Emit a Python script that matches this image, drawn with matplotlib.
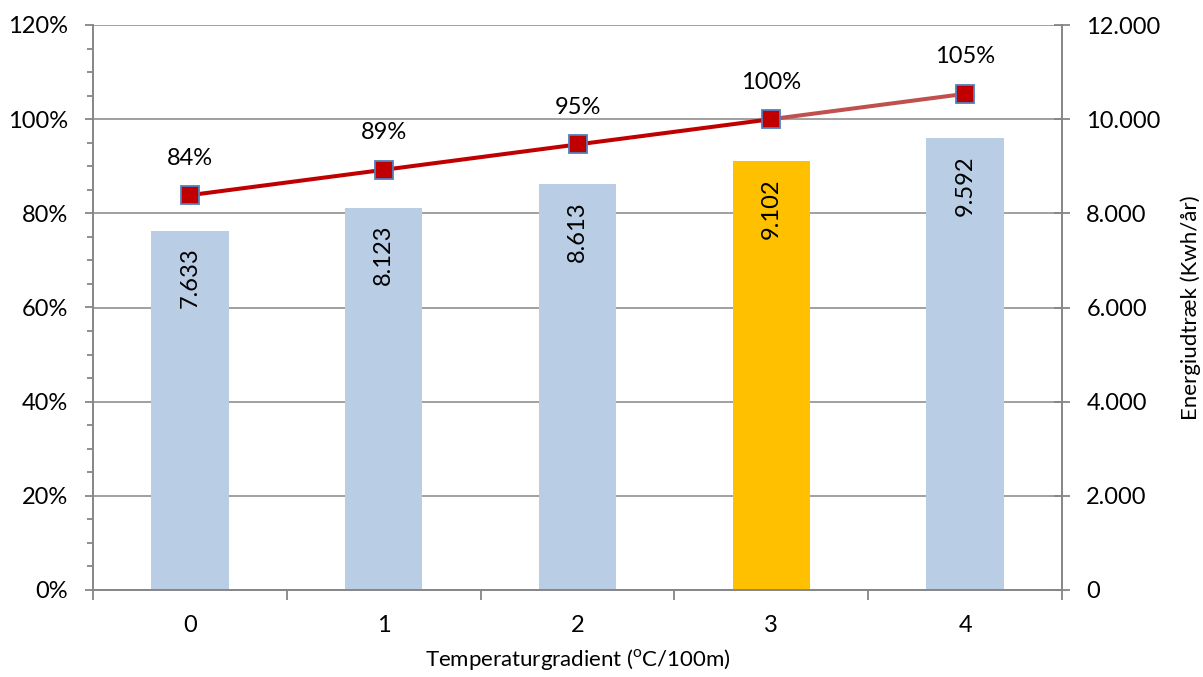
import matplotlib
matplotlib.use("Agg")
import matplotlib.pyplot as plt
from matplotlib.ticker import FuncFormatter, MultipleLocator, FixedLocator

plt.rcParams['font.family'] = ['Lato', 'DejaVu Sans']

# Data
gradients = [0, 1, 2, 3, 4]
energy_kwh = [7633, 8123, 8613, 9102, 9592]
relative = [0.8386, 0.8924, 0.9463, 1.0000, 1.0538]
bar_colors = ['#B9CDE5', '#B9CDE5', '#B9CDE5', '#FFC000', '#B9CDE5']

GRAY = '#868686'
FS = 17

fig = plt.figure(figsize=(12.03, 6.77), dpi=100)
ax = fig.add_axes([93 / 1203, 1 - 590 / 677, (1062 - 93) / 1203, (590 - 25) / 677])

# Relative consumption uses a twin axis drawn above the bars
ax2 = ax.twinx()

# Bars on the energy scale (right-hand axis)
x = list(range(len(gradients)))
ax.bar(x, energy_kwh, width=0.4, color=bar_colors, zorder=2)
ax.set_ylim(0, 12000)
ax.set_xlim(-0.5, len(gradients) - 0.5)
ax.yaxis.tick_right()
ax.yaxis.set_label_position('right')
ax.yaxis.set_major_locator(MultipleLocator(2000))
ax.yaxis.set_major_formatter(FuncFormatter(
    lambda v, p: '0' if v == 0 else f'{int(v):,}'.replace(',', '.')))
ax.set_ylabel('Energiudtræk (Kwh/år)', fontsize=FS - 1, labelpad=14)
ax.tick_params(axis='y', which='major', direction='inout', length=11,
               width=1.3, color=GRAY, labelsize=FS, pad=12)
ax.grid(axis='y', color=GRAY, linewidth=1.1, zorder=0)
ax.set_axisbelow(True)

# Category boundaries carry the ticks, labels sit at the centers
ax.xaxis.set_major_locator(FixedLocator([i - 0.5 for i in range(len(gradients) + 1)]))
ax.xaxis.set_major_formatter(FuncFormatter(lambda v, p: ''))
ax.xaxis.set_minor_locator(FixedLocator(x))
ax.set_xticklabels([str(g) for g in gradients], minor=True)
ax.tick_params(axis='x', which='major', direction='out', length=7, width=1.3, color=GRAY)
ax.tick_params(axis='x', which='minor', length=0, labelsize=FS, pad=18)
ax.set_xlabel('Temperaturgradient ($^\\mathregular{o}$C/100m)', fontsize=FS - 1, labelpad=8)

for xi, v in zip(x, energy_kwh):
    ax.annotate(f'{v:,}'.replace(',', '.'), (xi, v), xytext=(0, -12),
                textcoords='offset points', rotation=90, ha='center', va='top',
                fontsize=FS, zorder=3)

ax.spines['top'].set_visible(False)
for side in ['left', 'right', 'bottom']:
    ax.spines[side].set_color(GRAY)
    ax.spines[side].set_linewidth(1.4)

# Percentage scale on the left-hand axis
ax2.yaxis.tick_left()
ax2.yaxis.set_label_position('left')
ax2.set_ylim(0, 1.2)
ax2.yaxis.set_major_locator(MultipleLocator(0.2))
ax2.yaxis.set_minor_locator(MultipleLocator(0.05))
ax2.yaxis.set_major_formatter(FuncFormatter(lambda v, p: f'{v * 100:.0f}%'))
ax2.tick_params(axis='y', which='major', direction='out', length=6, width=1.3,
                color=GRAY, labelsize=FS, pad=12)
ax2.tick_params(axis='y', which='minor', direction='out', length=4.3, width=1.3, color=GRAY)
for side in ['top', 'right', 'bottom', 'left']:
    ax2.spines[side].set_visible(False)

ax2.plot(x[:4], relative[:4], color='#C00000', linewidth=2.9, zorder=3,
         solid_capstyle='butt')
ax2.plot(x[3:], relative[3:], color='#C0504D', linewidth=2.9, zorder=3,
         solid_capstyle='butt')
ax2.plot(x, relative, linestyle='none', marker='s', markersize=12.5,
         markerfacecolor='#C00000', markeredgecolor='#4F81BD',
         markeredgewidth=1.3, zorder=4)
for xi, r in zip(x, relative):
    ax2.annotate(f'{r * 100:.0f}%', (xi, r), xytext=(0, 19),
                 textcoords='offset points', ha='center', va='bottom', fontsize=FS)

fig.savefig('out.png', dpi=100)
